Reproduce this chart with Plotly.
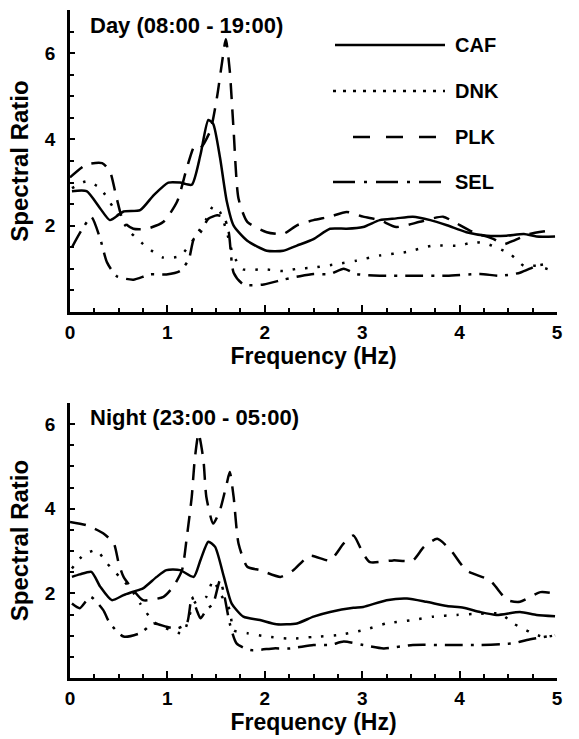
import plotly.graph_objects as go

# ---------------- data ----------------
# Day panel
day_caf_f = [0.02, 0.17, 0.31, 0.41, 0.55, 0.72, 0.86, 1.01, 1.13, 1.25, 1.34, 1.42, 1.47, 1.54, 1.61, 1.68, 1.82, 2.02, 2.19, 2.33, 2.50, 2.67, 2.84, 3.01, 3.18, 3.35, 3.52, 3.70, 3.87, 4.07, 4.28, 4.48, 4.66, 4.79, 4.98]
day_caf_y = [2.8, 2.8, 2.4, 2.13, 2.33, 2.36, 2.71, 3.0, 3.0, 2.95, 3.65, 4.45, 4.36, 3.58, 2.56, 2.0, 1.65, 1.42, 1.42, 1.54, 1.69, 1.93, 1.93, 1.97, 2.13, 2.17, 2.21, 2.13, 2.01, 1.85, 1.77, 1.77, 1.81, 1.75, 1.75]

day_dnk_f = [0.02, 0.17, 0.31, 0.45, 0.62, 0.79, 0.96, 1.13, 1.27, 1.40, 1.47, 1.54, 1.61, 1.68, 1.78, 1.99, 2.19, 2.33, 2.50, 2.74, 2.94, 3.18, 3.45, 3.73, 4.00, 4.14, 4.28, 4.52, 4.66, 4.79, 4.96]
day_dnk_y = [2.87, 3.03, 2.87, 2.4, 1.85, 1.5, 1.26, 1.3, 1.69, 2.16, 2.45, 2.32, 1.85, 1.3, 0.99, 0.99, 0.95, 1.0, 1.03, 1.11, 1.19, 1.31, 1.39, 1.54, 1.54, 1.62, 1.58, 1.34, 1.07, 1.07, 0.95]

day_plk_f = [0.0, 0.17, 0.33, 0.41, 0.48, 0.55, 0.65, 0.79, 0.96, 1.10, 1.20, 1.28, 1.34, 1.44, 1.51, 1.56, 1.60, 1.64, 1.68, 1.73, 1.82, 2.02, 2.19, 2.33, 2.50, 2.67, 2.84, 3.01, 3.18, 3.35, 3.59, 3.83, 3.94, 4.14, 4.35, 4.45, 4.55, 4.72, 4.90]
day_plk_y = [3.12, 3.42, 3.45, 3.26, 2.63, 2.09, 1.93, 1.93, 2.09, 2.56, 3.34, 3.85, 3.81, 4.2, 4.99, 5.77, 6.32, 5.6, 4.2, 2.63, 2.09, 1.85, 1.81, 2.01, 2.13, 2.21, 2.32, 2.21, 2.13, 1.97, 2.09, 2.21, 2.09, 1.85, 1.69, 1.57, 1.65, 1.81, 1.88]

day_sel_f = [0.02, 0.12, 0.22, 0.31, 0.38, 0.48, 0.65, 0.82, 0.99, 1.13, 1.22, 1.27, 1.34, 1.42, 1.51, 1.58, 1.63, 1.68, 1.78, 1.99, 2.19, 2.36, 2.50, 2.67, 2.81, 2.94, 3.18, 3.52, 3.87, 4.21, 4.42, 4.62, 4.79, 4.89]
day_sel_y = [1.5, 1.9, 2.2, 1.7, 1.15, 0.83, 0.75, 0.87, 0.87, 0.95, 1.22, 1.69, 1.85, 2.16, 2.24, 2.2, 1.85, 0.91, 0.64, 0.64, 0.75, 0.83, 0.88, 0.88, 1.0, 0.88, 0.84, 0.84, 0.84, 0.88, 0.84, 0.91, 1.07, 1.11]

# Night panel
night_caf_f = [0.02, 0.10, 0.22, 0.31, 0.43, 0.55, 0.65, 0.75, 0.89, 0.99, 1.13, 1.27, 1.34, 1.42, 1.49, 1.58, 1.66, 1.78, 1.95, 2.12, 2.33, 2.50, 2.67, 2.91, 3.01, 3.25, 3.46, 3.66, 3.87, 4.04, 4.21, 4.38, 4.62, 4.79, 4.98]
night_caf_y = [2.39, 2.45, 2.51, 2.16, 1.84, 1.96, 2.04, 2.12, 2.39, 2.55, 2.55, 2.39, 2.79, 3.22, 3.1, 2.39, 1.76, 1.45, 1.37, 1.27, 1.29, 1.45, 1.56, 1.66, 1.68, 1.84, 1.88, 1.80, 1.70, 1.66, 1.56, 1.49, 1.56, 1.49, 1.46]

night_dnk_f = [0.02, 0.14, 0.27, 0.38, 0.51, 0.62, 0.72, 0.86, 1.03, 1.16, 1.27, 1.34, 1.40, 1.47, 1.54, 1.64, 1.68, 1.82, 2.02, 2.26, 2.50, 2.74, 3.01, 3.25, 3.52, 3.73, 3.97, 4.21, 4.42, 4.55, 4.72, 4.86, 4.98]
night_dnk_y = [2.59, 2.91, 3.02, 2.71, 2.39, 2.12, 1.76, 1.33, 1.13, 1.06, 1.76, 1.84, 1.92, 2.31, 2.0, 1.61, 1.13, 1.06, 0.98, 0.93, 0.97, 1.01, 1.13, 1.29, 1.37, 1.45, 1.49, 1.52, 1.52, 1.29, 1.09, 0.97, 1.01]

night_plk_f = [0.0, 0.17, 0.34, 0.45, 0.50, 0.55, 0.65, 0.75, 0.96, 1.06, 1.15, 1.20, 1.25, 1.28, 1.32, 1.37, 1.40, 1.47, 1.54, 1.61, 1.64, 1.68, 1.73, 1.82, 1.95, 2.16, 2.29, 2.46, 2.67, 2.81, 2.91, 3.01, 3.08, 3.32, 3.52, 3.63, 3.77, 3.91, 4.07, 4.31, 4.49, 4.62, 4.83, 5.0]
night_plk_y = [3.69, 3.61, 3.42, 3.18, 2.71, 2.39, 2.08, 1.84, 1.92, 2.16, 2.55, 3.34, 4.28, 5.15, 5.78, 5.15, 4.28, 3.65, 3.97, 4.6, 4.87, 4.28, 3.18, 2.63, 2.55, 2.39, 2.54, 2.89, 2.78, 3.18, 3.37, 2.94, 2.74, 2.78, 2.78, 3.09, 3.29, 3.02, 2.54, 2.31, 1.84, 1.80, 2.03, 1.99]

night_sel_f = [0.02, 0.10, 0.21, 0.34, 0.41, 0.55, 0.72, 0.86, 0.99, 1.10, 1.20, 1.25, 1.30, 1.34, 1.40, 1.47, 1.54, 1.58, 1.64, 1.71, 1.85, 2.09, 2.26, 2.50, 2.67, 2.81, 3.01, 3.22, 3.52, 3.87, 4.21, 4.55, 4.69, 4.86, 4.98]
night_sel_y = [1.76, 1.65, 1.92, 1.61, 1.29, 0.98, 1.06, 1.29, 1.21, 1.17, 1.29, 1.92, 1.61, 1.41, 1.61, 1.76, 2.31, 2.0, 1.29, 0.82, 0.66, 0.70, 0.70, 0.78, 0.78, 0.86, 0.78, 0.70, 0.78, 0.78, 0.78, 0.82, 0.90, 0.97, 1.01]

stations = ["CAF", "DNK", "PLK", "SEL"]
panel_titles = ["Day (08:00 - 19:00)", "Night (23:00 - 05:00)"]
x_ticks = [0, 1, 2, 3, 4, 5]
y_ticks = [2, 4, 6]

# ---------------- styles ----------------
FONT = "Liberation Sans, Arial, sans-serif"
dash_data = {"CAF": "solid", "DNK": "2.5px,10px", "PLK": "16px,10px", "SEL": "18px,8px,3px,8px"}
dash_leg = {"CAF": "solid", "DNK": "3px,7px", "PLK": "17px,16px", "SEL": "22px,9px,3px,9px"}

fig = go.Figure()

panels = [
    ("x", "y", [day_caf_f, day_dnk_f, day_plk_f, day_sel_f], [day_caf_y, day_dnk_y, day_plk_y, day_sel_y]),
    ("x2", "y2", [night_caf_f, night_dnk_f, night_plk_f, night_sel_f], [night_caf_y, night_dnk_y, night_plk_y, night_sel_y]),
]
for xa, ya, fs, ys in panels:
    for st, f, y in zip(stations, fs, ys):
        fig.add_trace(go.Scatter(
            x=f, y=y, mode="lines", name=st, xaxis=xa, yaxis=ya, showlegend=False,
            line=dict(color="black", width=2.5, dash=dash_data[st], shape="spline", smoothing=0.6),
        ))

W, H = 579, 739
def px(v):
    return v / W
def py(v):
    return 1 - v / H

x_dom = [px(70), px(557)]

common_x = dict(
    range=[0, 5], domain=x_dom, showline=True, linecolor="black", linewidth=2.5,
    showgrid=False, zeroline=False, ticks="inside", ticklen=7, tickwidth=2, tickcolor="black",
    tickvals=x_ticks, ticktext=[str(v) for v in x_ticks],
    tickfont=dict(family=FONT, size=19, color="black", weight="bold"),
    ticklabelstandoff=1,
    minor=dict(dtick=0.25, tick0=0, ticks="inside", ticklen=4, tickwidth=2, tickcolor="black"),
    title=dict(text="Frequency (Hz)", font=dict(family=FONT, size=23, color="black", weight="bold"), standoff=3),
    automargin=False, fixedrange=True,
)
common_y = dict(
    showline=True, linecolor="black", linewidth=2.5, showgrid=False, zeroline=False,
    ticks="inside", ticklen=5, tickwidth=2, tickcolor="black",
    tickvals=y_ticks, ticktext=[str(v) for v in y_ticks],
    tickfont=dict(family=FONT, size=19, color="black", weight="bold"),
    ticklabelstandoff=8,
    minor=dict(dtick=0.5, tick0=0, ticks="inside", ticklen=4, tickwidth=2, tickcolor="black"),
    title=dict(text="Spectral Ratio", font=dict(family=FONT, size=24, color="black", weight="bold"), standoff=10),
    automargin=False, fixedrange=True,
)

fig.update_layout(
    width=W, height=H, margin=dict(l=0, r=0, t=0, b=0),
    paper_bgcolor="white", plot_bgcolor="white", template="none",
    showlegend=False,
    xaxis=dict(common_x, anchor="y"),
    yaxis=dict(common_y, anchor="x", range=[0, 7], domain=[py(312), py(10)]),
    xaxis2=dict(common_x, anchor="y2"),
    yaxis2=dict(common_y, anchor="x2", range=[0, 6.5], domain=[py(678), py(403)]),
)

# panel labels
for title, yy in zip(panel_titles, [25, 418]):
    fig.add_annotation(text=title, xref="paper", yref="paper", x=px(88), y=py(yy),
                       xanchor="left", yanchor="middle", showarrow=False,
                       font=dict(family=FONT, size=22, color="black", weight="bold"))

# legend (top panel)
leg_rows = [(335, 45), (333, 91), (353, 137), (333, 182)]
for st, (x0, yy) in zip(stations, leg_rows):
    fig.add_shape(type="line", xref="paper", yref="paper", x0=px(x0), x1=px(445), y0=py(yy), y1=py(yy),
                  line=dict(color="black", width=2.5, dash=dash_leg[st]))
    fig.add_annotation(text=st, xref="paper", yref="paper", x=px(453), y=py(yy),
                       xanchor="left", yanchor="middle", showarrow=False,
                       font=dict(family=FONT, size=20, color="black", weight="bold"))

fig.write_html("out.html")
